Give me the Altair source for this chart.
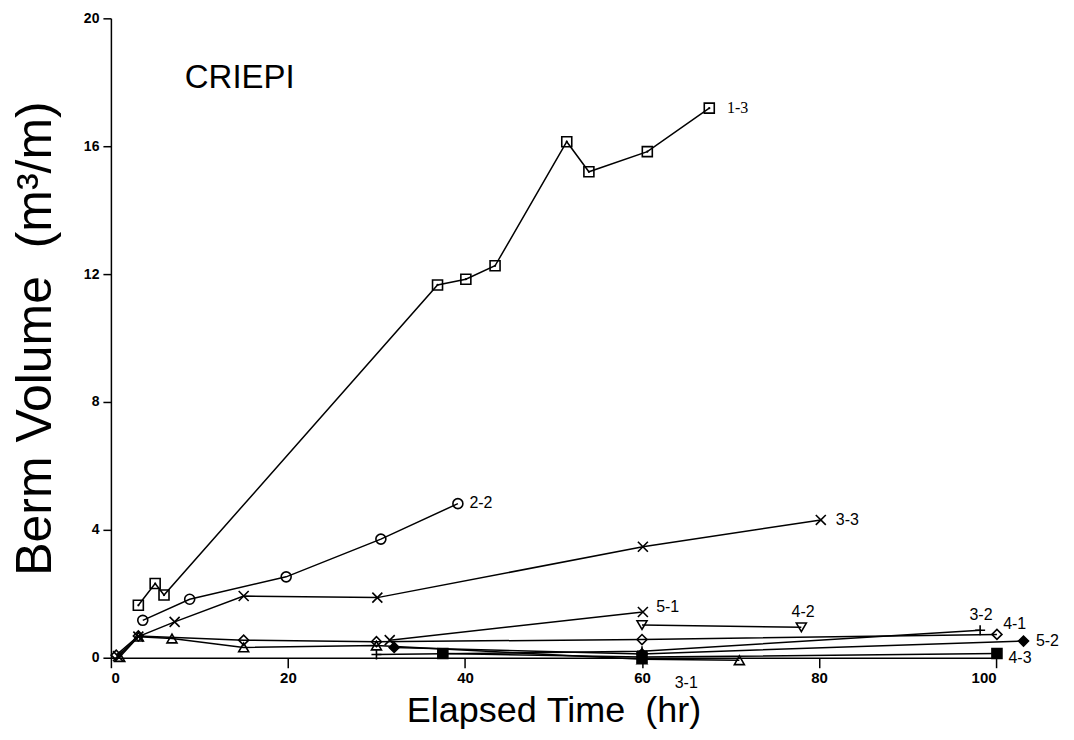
import altair as alt
import pandas as pd

# ---- data ----
series_names = ["1-3", "2-2", "3-3", "3-1", "3-2", "4-1", "4-2", "4-3", "5-1", "5-2"]

s13_t = [3.1, 5.0, 6.0, 36.9, 40.1, 43.4, 51.5, 54.0, 60.6, 67.6]
s13_v = [1.64, 2.32, 1.96, 11.66, 11.84, 12.26, 16.14, 15.20, 15.83, 17.19]

s22_t = [3.6, 8.9, 19.8, 30.5, 39.2]
s22_v = [1.17, 1.83, 2.53, 3.71, 4.82]

s33_t = [0.8, 3.1, 7.2, 15.0, 30.1, 60.1, 80.2]
s33_v = [0.05, 0.66, 1.12, 1.93, 1.88, 3.47, 4.31]

s31_t = [1.0, 3.1, 6.9, 15.0, 30.0, 60.0, 71.0]
s31_v = [0.02, 0.66, 0.60, 0.32, 0.38, -0.05, -0.08]

s32_t = [30.0, 60.0, 98.2]
s32_v = [0.10, 0.20, 0.86]

s41_t = [0.6, 3.1, 15.0, 30.0, 60.0, 100.1]
s41_v = [0.08, 0.68, 0.55, 0.50, 0.57, 0.73]

s42_t = [60.0, 78.0]
s42_v = [1.02, 0.95]

s43_t = [37.5, 60.0, 100.1]
s43_v = [0.13, 0.02, 0.13]

s51_t = [31.5, 60.1]
s51_v = [0.55, 1.43]

s52_t = [32.0, 60.0, 103.1]
s52_v = [0.32, 0.12, 0.52]

series_t = [s13_t, s22_t, s33_t, s31_t, s32_t, s41_t, s42_t, s43_t, s51_t, s52_t]
series_v = [s13_v, s22_v, s33_v, s31_v, s32_v, s41_v, s42_v, s43_v, s51_v, s52_v]

X_PATH = "M-1,-1L1,1M-1,1L1,-1"
PLUS_PATH = "M-1,0L1,0M0,-1L0,1"
series_shape = ["square", "circle", X_PATH, "triangle-up", PLUS_PATH,
                "diamond", "triangle-down", "square", X_PATH, "diamond"]
series_fill = ["transparent", "transparent", "transparent", "transparent", "transparent",
               "transparent", "transparent", "black", "transparent", "black"]

# series labels
label_text = ["1-3", "2-2", "3-3", "5-1", "4-2", "3-2", "4-1", "5-2", "4-3", "3-1"]
label_t = [69.6, 40.5, 81.9, 61.6, 78.2, 98.3, 100.8, 104.5, 101.4, 65.0]
label_v = [17.19, 4.83, 4.31, 1.59, 1.43, 1.33, 1.07, 0.52, 0.0, -0.8]
label_group = ["serif", "left", "left", "left", "center", "center", "left", "left", "left", "center"]

title_text = ["CRIEPI"]
title_t = [8.35]
title_v = [17.82]

NB = "\u00a0"

# ---- build tables ----
rows = []
for name, ts, vs, shp, fl in zip(series_names, series_t, series_v, series_shape, series_fill):
    for i, (t, v) in enumerate(zip(ts, vs)):
        rows.append({"series": name, "t": t, "v": v, "idx": i, "shape": shp, "fill": fl})
df = pd.DataFrame(rows)

lab = pd.DataFrame({"text": label_text, "t": label_t, "v": label_v, "grp": label_group})
ttl = pd.DataFrame({"text": title_text, "t": title_t, "v": title_v})

xscale = alt.Scale(domain=[0, 100], nice=False, zero=False)
yscale = alt.Scale(domain=[0, 20], nice=False, zero=False)

xaxis = alt.Axis(
    values=[0, 20, 40, 60, 80, 100], format="d", grid=False,
    title="Elapsed" + NB + "Time" + NB + NB + "(hr)", titleFont="Liberation Sans", titleFontSize=36,
    titleFontWeight="normal", titleColor="black", titleX=443, titleY=64,
    titleBaseline="alphabetic", titleAlign="center",
    labelFont="Liberation Sans", labelFontSize=15, labelFontWeight="bold",
    labelColor="black", labelPadding=3, tickSize=10, tickColor="black",
    tickWidth=1.5, domainColor="black", domainWidth=1.5,
)
yaxis = alt.Axis(
    values=[0, 4, 8, 12, 16, 20], format="d", grid=False,
    title="Berm" + NB + "Volume" + NB + NB + "(m³/m)", titleFont="Liberation Sans", titleFontSize=50,
    titleFontWeight="normal", titleColor="black", titleAngle=270,
    titleX=-75, titleY=320, titleAlign="center", titleBaseline="middle",
    labelFont="Liberation Sans", labelFontSize=14, labelFontWeight="bold",
    labelColor="black", labelPadding=4, tickSize=8, tickColor="black",
    tickWidth=1.5, domainColor="black", domainWidth=1.5,
)

base = alt.Chart(df)

lines = base.mark_line(color="black", strokeWidth=1.5).encode(
    x=alt.X("t:Q", scale=xscale, axis=xaxis),
    y=alt.Y("v:Q", scale=yscale, axis=yaxis),
    detail="series:N",
    order="idx:Q",
)

points = base.mark_point(color="black", strokeWidth=1.6, size=100, opacity=1).encode(
    x=alt.X("t:Q", scale=xscale),
    y=alt.Y("v:Q", scale=yscale),
    shape=alt.Shape("shape:N", scale=None),
    fill=alt.Fill("fill:N", scale=None),
)

dots = base.transform_filter(alt.datum.series == "1-3").mark_point(
    color="black", filled=True, size=5, shape="circle", opacity=1
).encode(x=alt.X("t:Q", scale=xscale), y=alt.Y("v:Q", scale=yscale))


def label_layer(grp, align, font):
    return alt.Chart(lab).transform_filter(alt.datum.grp == grp).mark_text(
        fontSize=16, color="black", baseline="middle", align=align, font=font
    ).encode(
        x=alt.X("t:Q", scale=xscale),
        y=alt.Y("v:Q", scale=yscale),
        text="text:N",
    )


labels_serif = label_layer("serif", "left", "Liberation Serif")
labels_left = label_layer("left", "left", "Liberation Sans")
labels_center = label_layer("center", "center", "Liberation Sans")

title = alt.Chart(ttl).mark_text(fontSize=33, color="black", align="left",
                                 baseline="alphabetic", font="Liberation Sans").encode(
    x=alt.X("t:Q", scale=xscale),
    y=alt.Y("v:Q", scale=yscale),
    text="text:N",
)

chart = alt.layer(lines, points, dots, labels_serif, labels_left, labels_center, title).properties(
    width=886, height=640,
    autosize=alt.AutoSizeParams(type="none"),
    padding={"left": 103, "top": 10, "right": 70, "bottom": 72},
    background="white",
).configure_view(stroke=None)

chart.save("out.html", embed_options={"renderer": "svg", "actions": False})
